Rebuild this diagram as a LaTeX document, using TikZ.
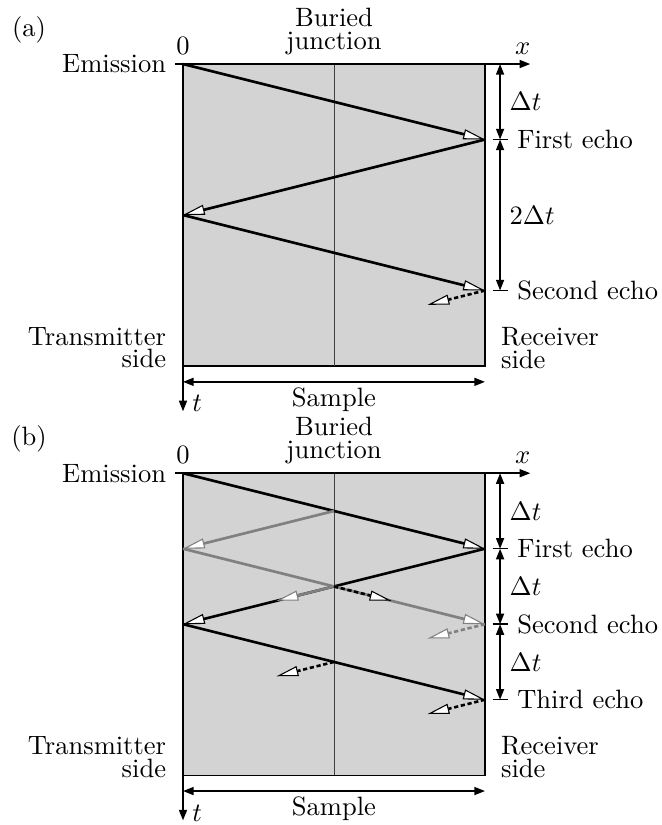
\documentclass[tikz,border=0pt]{standalone}
\usepackage{tikz}
\usetikzlibrary{arrows.meta, positioning, calc}
\definecolor{SampleGray}{RGB}{211, 211, 211}
\definecolor{EchoGray}{RGB}{128, 128, 128}
\definecolor{JunctionGray}{RGB}{64, 64, 64}

\begin{document}
\begin{tikzpicture}[
    ray/.style={line width=1pt, -{Triangle[length=8.2pt, width=3.8pt, fill=white, line width=0.4pt]}},
    lost/.style={ray, dash pattern=on 1.6pt off 1pt},
    span/.style={line width=0.6pt, {Triangle[length=4pt, width=3pt]}-{Triangle[length=4pt, width=3pt]}},
    axis/.style={line width=0.6pt, -{Triangle[length=4pt, width=3pt]}},
    tick/.style={line width=0.6pt},
    junction/.style={line width=0.35pt, JunctionGray}
  ]
  \useasboundingbox (-2.424,0.848) rectangle (6.344,-10.08);

  % (a) Echoes from the sample ends only
  \node (alab) at (-2.04,0.45) {(a)};
  \fill[SampleGray] (0,0) rectangle (4,-4);
  \draw[line width=0.4pt] (4,0) -- (4,-4) -- (0,-4);
  \draw[junction] (2,0) -- (2,-4);

  % Axes
  \draw[axis] (-0.1,0) -- (4.6,0);
  \draw[axis] (0,0) -- (0,-4.6);
  \node[above] (azero) at (0,0) {0};
  \node[above] (ax) at (4.5,0) {$x$};
  \node[right] (at) at (0,-4.5) {$t$};
  \node[above, align=center] (ajunc) at (2,0) {Buried\\[-3.5pt]junction};
  \node[left] (aemit) at (-0.1,0) {Emission};
  \node[left, align=right] (atx) at (-0.1,-3.76) {Transmitter\\[-3.5pt]side};
  \node[right, align=left] (arx) at (4.09,-3.76) {Receiver\\[-3.5pt]side};

  % Sample width
  \coordinate (asl) at (0,-4.21);
  \coordinate (asr) at (4,-4.21);
  \draw[span] (asl) -- (asr) node[midway, below, inner sep=2pt] (asample) {Sample};

  % Rays
  \coordinate (a0) at (0,0);
  \coordinate (a1) at (4,-1);
  \coordinate (a2) at (0,-2);
  \coordinate (a3) at (4,-3);
  \coordinate (a3r) at ($(a3)+(-0.76,-0.19)$);
  \foreach \p/\q in {a0/a1, a1/a2, a2/a3}
    \draw[ray] (\p) -- (\q);
  \draw[lost] (a3) -- (a3r);

  % Echo times
  \coordinate (ad0) at (4.2,0);
  \coordinate (ad1) at (4.2,-1);
  \coordinate (ad3) at (4.2,-3);
  \draw[span] (ad0) -- (ad1) node[midway, right] (adt1) {$\Delta t$};
  \draw[span] (ad1) -- (ad3) node[midway, right] (adt2) {$2\Delta t$};
  \draw[tick] (4.1,-1) -- (4.3,-1) node[right] (aecho1) {First echo};
  \draw[tick] (4.1,-3) -- (4.3,-3) node[right] (aecho2) {Second echo};

  % (b) Echoes with the junction
  \begin{scope}[yshift=-5.42cm]
    \node (blab) at (-2.04,0.45) {(b)};
    \fill[SampleGray] (0,0) rectangle (4,-4);
    \draw[line width=0.4pt] (4,0) -- (4,-4) -- (0,-4);
    \draw[junction] (2,0) -- (2,-4);

    % Axes
    \draw[axis] (-0.1,0) -- (4.6,0);
    \draw[axis] (0,0) -- (0,-4.6);
    \node[above] (bzero) at (0,0) {0};
    \node[above] (bx) at (4.5,0) {$x$};
    \node[right] (bt) at (0,-4.5) {$t$};
    \node[above, align=center] (bjunc) at (2,0) {Buried\\[-3.5pt]junction};
    \node[left] (bemit) at (-0.1,0) {Emission};
    \node[left, align=right] (btx) at (-0.1,-3.76) {Transmitter\\[-3.5pt]side};
    \node[right, align=left] (brx) at (4.09,-3.76) {Receiver\\[-3.5pt]side};

    % Sample width
    \coordinate (bsl) at (0,-4.21);
    \coordinate (bsr) at (4,-4.21);
    \draw[span] (bsl) -- (bsr) node[midway, below, inner sep=2pt] (bsample) {Sample};

    % Rays
    \coordinate (b0) at (0,0);
    \coordinate (b1) at (4,-1);
    \coordinate (b2) at (0,-2);
    \coordinate (b3) at (4,-3);
    \coordinate (bl1) at (0,-1);
    \coordinate (br2) at (4,-2);
    \coordinate (bj1) at (2,-0.5);
    \coordinate (bj2) at (2,-1.5);
    \coordinate (bj3) at (2,-2.5);
    \foreach \p/\q in {b0/b1, b1/b2, b2/b3}
      \draw[ray] (\p) -- (\q);
    \draw[ray, EchoGray] (bj1) -- (bl1);
    \draw[ray, EchoGray] (bl1) -- (br2);

    % Partial reflections
    \coordinate (bj2l) at ($(bj2)+(-0.76,-0.19)$);
    \coordinate (bj2r) at ($(bj2)+(0.76,-0.19)$);
    \coordinate (bj3l) at ($(bj3)+(-0.76,-0.19)$);
    \coordinate (br2l) at ($(br2)+(-0.76,-0.19)$);
    \coordinate (b3l) at ($(b3)+(-0.76,-0.19)$);
    \draw[ray, EchoGray] (bj2) -- (bj2l);
    \draw[lost, EchoGray] (br2) -- (br2l);
    \foreach \p/\q in {bj2/bj2r, bj3/bj3l, b3/b3l}
      \draw[lost] (\p) -- (\q);

    % Echo times
    \foreach \i in {0,1,2,3}
      \coordinate (bd\i) at (4.2,-\i);
    \draw[span] (bd0) -- (bd1) node[midway, right] (bdt1) {$\Delta t$};
    \draw[span] (bd1) -- (bd2) node[midway, right] (bdt2) {$\Delta t$};
    \draw[span] (bd2) -- (bd3) node[midway, right] (bdt3) {$\Delta t$};
    \draw[tick] (4.1,-1) -- (4.3,-1) node[right] (becho1) {First echo};
    \draw[tick] (4.1,-2) -- (4.3,-2) node[right] (becho2) {Second echo};
    \draw[tick] (4.1,-3) -- (4.3,-3) node[right] (becho3) {Third echo};
  \end{scope}
\end{tikzpicture}
\end{document}
